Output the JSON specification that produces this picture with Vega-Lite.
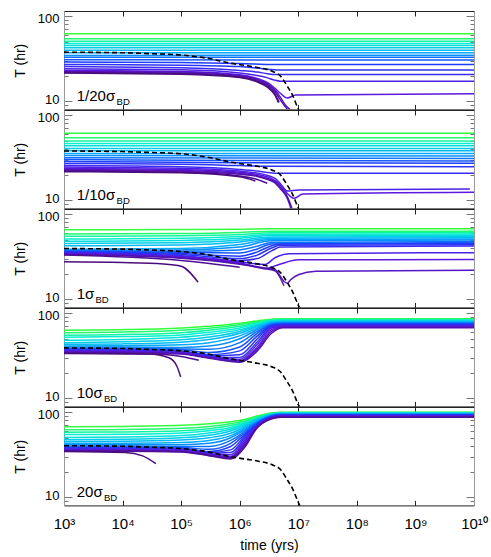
{
"$schema":"https://vega.github.io/schema/vega-lite/v6.json",
"padding":{"left":13,"top":10,"right":5,"bottom":5},
"spacing":0,
"bounds":"flush",
"config":{"view":{"stroke":null},"font":"Liberation Sans","axis":{"grid":false,"labelFont":"Liberation Sans","titleFont":"Liberation Sans","labelColor":"#000","titleColor":"#000","titleFontWeight":"normal","labelFlush":false,"labelOverlap":false,"labelBound":false}},
"datasets":{
"dash":[
{"p":1,"t":1e3,"T":37.7},{"p":1,"t":1e4,"T":37.1},{"p":1,"t":3e4,"T":36.2},{"p":1,"t":1e5,"T":34.9},{"p":1,"t":3e5,"T":31.7},{"p":1,"t":7e5,"T":27.9},{"p":1,"t":1.2e6,"T":26.4},{"p":1,"t":2e6,"T":24.9},{"p":1,"t":3.5e6,"T":22.6},{"p":1,"t":5e6,"T":19.6},{"p":1,"t":6.3e6,"T":15.5},{"p":1,"t":8e6,"T":11.7},{"p":1,"t":1e7,"T":8.1},{"p":1,"t":1.1e7,"T":7.2},
{"p":2,"t":1e3,"T":37.9},{"p":2,"t":1e4,"T":37.3},{"p":2,"t":3e4,"T":36.4},{"p":2,"t":1e5,"T":35.1},{"p":2,"t":3e5,"T":31.8},{"p":2,"t":7e5,"T":28},{"p":2,"t":1.2e6,"T":26.5},{"p":2,"t":2e6,"T":25},{"p":2,"t":3.5e6,"T":22.7},{"p":2,"t":5e6,"T":19.7},{"p":2,"t":6.3e6,"T":15.5},{"p":2,"t":8e6,"T":11.7},{"p":2,"t":1e7,"T":8.1},{"p":2,"t":1.1e7,"T":7.2},
{"p":3,"t":1e3,"T":39.4},{"p":3,"t":1e4,"T":38.8},{"p":3,"t":3e4,"T":37.8},{"p":3,"t":1e5,"T":36.4},{"p":3,"t":3e5,"T":33.1},{"p":3,"t":7e5,"T":29.2},{"p":3,"t":1.2e6,"T":27.6},{"p":3,"t":2e6,"T":26},{"p":3,"t":3.5e6,"T":23.6},{"p":3,"t":5e6,"T":20.5},{"p":3,"t":6.3e6,"T":16.2},{"p":3,"t":8e6,"T":12.2},{"p":3,"t":1e7,"T":8.5},{"p":3,"t":1.1e7,"T":7.4},
{"p":4,"t":1e3,"T":39},{"p":4,"t":1e4,"T":38.4},{"p":4,"t":3e4,"T":37.4},{"p":4,"t":1e5,"T":36.1},{"p":4,"t":3e5,"T":32.8},{"p":4,"t":7e5,"T":28.9},{"p":4,"t":1.2e6,"T":27.3},{"p":4,"t":2e6,"T":25.7},{"p":4,"t":3.5e6,"T":23.4},{"p":4,"t":5e6,"T":20.3},{"p":4,"t":6.3e6,"T":16},{"p":4,"t":8e6,"T":12.1},{"p":4,"t":1e7,"T":8.4},{"p":4,"t":1.1e7,"T":7.4},
{"p":5,"t":1e3,"T":40.3},{"p":5,"t":1e4,"T":39.7},{"p":5,"t":3e4,"T":38.7},{"p":5,"t":1e5,"T":37.3},{"p":5,"t":3e5,"T":33.9},{"p":5,"t":7e5,"T":29.8},{"p":5,"t":1.2e6,"T":28.2},{"p":5,"t":2e6,"T":26.6},{"p":5,"t":3.5e6,"T":24.2},{"p":5,"t":5e6,"T":21},{"p":5,"t":6.3e6,"T":16.5},{"p":5,"t":8e6,"T":12.5},{"p":5,"t":1e7,"T":8.7},{"p":5,"t":1.1e7,"T":7.5}
],
"lines":[
{"p":1,"i":19,"t":1e3,"T":61.9},{"p":1,"i":19,"t":1e10,"T":61.9},
{"p":1,"i":18,"t":1e3,"T":54.1},{"p":1,"i":18,"t":1e10,"T":54.1},
{"p":1,"i":17,"t":1e3,"T":50.8},{"p":1,"i":17,"t":1e10,"T":50.8},
{"p":1,"i":16,"t":1e3,"T":47.7},{"p":1,"i":16,"t":1e10,"T":47.7},
{"p":1,"i":15,"t":1e3,"T":45.2},{"p":1,"i":15,"t":1e10,"T":45.2},
{"p":1,"i":14,"t":1e3,"T":42.4},{"p":1,"i":14,"t":1e10,"T":42.4},
{"p":1,"i":13,"t":1e3,"T":39.8},{"p":1,"i":13,"t":1e10,"T":39.8},
{"p":1,"i":12,"t":1e3,"T":37},{"p":1,"i":12,"t":1e10,"T":37},
{"p":1,"i":11,"t":1e3,"T":34.5},{"p":1,"i":11,"t":1e10,"T":34.7},
{"p":1,"i":10,"t":1e3,"T":32.8},{"p":1,"i":10,"t":1e10,"T":32.9},
{"p":1,"i":9,"t":1e3,"T":30.8},{"p":1,"i":9,"t":1e6,"T":30.5},{"p":1,"i":9,"t":1e10,"T":30.4},
{"p":1,"i":8,"t":1e3,"T":28.8},{"p":1,"i":8,"t":1e5,"T":28.5},{"p":1,"i":8,"t":1e6,"T":27.8},{"p":1,"i":8,"t":4e6,"T":27},{"p":1,"i":8,"t":1e10,"T":27},
{"p":1,"i":7,"t":1e3,"T":27},{"p":1,"i":7,"t":1e5,"T":26.5},{"p":1,"i":7,"t":1e6,"T":25.5},{"p":1,"i":7,"t":3e6,"T":23.8},{"p":1,"i":7,"t":5e6,"T":23.2},{"p":1,"i":7,"t":1e10,"T":23.2},
{"p":1,"i":6,"t":1e3,"T":25.5},{"p":1,"i":6,"t":1e5,"T":24.8},{"p":1,"i":6,"t":1e6,"T":23},{"p":1,"i":6,"t":2e6,"T":22},{"p":1,"i":6,"t":3e6,"T":21},{"p":1,"i":6,"t":4e6,"T":20.6},{"p":1,"i":6,"t":1e10,"T":20.6},
{"p":1,"i":5,"t":1e3,"T":24},{"p":1,"i":5,"t":1e5,"T":23.4},{"p":1,"i":5,"t":1e6,"T":21.5},{"p":1,"i":5,"t":2e6,"T":20},{"p":1,"i":5,"t":3e6,"T":18.8},{"p":1,"i":5,"t":4e6,"T":17.6},{"p":1,"i":5,"t":5e6,"T":17.2},{"p":1,"i":5,"t":1e10,"T":17.2},
{"p":1,"i":4,"t":1e3,"T":23},{"p":1,"i":4,"t":1e5,"T":22.4},{"p":1,"i":4,"t":1e6,"T":20.5},{"p":1,"i":4,"t":2e6,"T":18.5},{"p":1,"i":4,"t":3e6,"T":16.5},{"p":1,"i":4,"t":4e6,"T":14.2},{"p":1,"i":4,"t":5e6,"T":12.3},{"p":1,"i":4,"t":6.5e6,"T":10.9},{"p":1,"i":4,"t":9e6,"T":11.8},{"p":1,"i":4,"t":1e10,"T":12.2},
{"p":1,"i":3,"t":1e3,"T":22.5},{"p":1,"i":3,"t":1e5,"T":22},{"p":1,"i":3,"t":1e6,"T":20},{"p":1,"i":3,"t":2e6,"T":18},{"p":1,"i":3,"t":3e6,"T":16},{"p":1,"i":3,"t":4e6,"T":13.5},{"p":1,"i":3,"t":5e6,"T":11},{"p":1,"i":3,"t":6e6,"T":9},{"p":1,"i":3,"t":7.2e6,"T":8},
{"p":1,"i":2,"t":1e3,"T":22},{"p":1,"i":2,"t":1e5,"T":21.5},{"p":1,"i":2,"t":1e6,"T":19.7},{"p":1,"i":2,"t":2e6,"T":17.6},{"p":1,"i":2,"t":3e6,"T":15.5},{"p":1,"i":2,"t":4e6,"T":13},{"p":1,"i":2,"t":5e6,"T":10.2},{"p":1,"i":2,"t":6.5e6,"T":8},
{"p":1,"i":1,"t":1e3,"T":21.7},{"p":1,"i":1,"t":1e5,"T":21.1},{"p":1,"i":1,"t":1e6,"T":19.3},{"p":1,"i":1,"t":2e6,"T":17.2},{"p":1,"i":1,"t":3e6,"T":15},{"p":1,"i":1,"t":4e6,"T":12.2},{"p":1,"i":1,"t":4.7e6,"T":9.7},
{"p":1,"i":0,"t":1e3,"T":21.4},{"p":1,"i":0,"t":1e5,"T":20.8},{"p":1,"i":0,"t":1e6,"T":19},{"p":1,"i":0,"t":2e6,"T":16.8},{"p":1,"i":0,"t":3e6,"T":14.5},{"p":1,"i":0,"t":4e6,"T":11.8},{"p":1,"i":0,"t":4.6e6,"T":9.6},

{"p":2,"i":19,"t":1e3,"T":61.1},{"p":2,"i":19,"t":1e10,"T":61.1},
{"p":2,"i":18,"t":1e3,"T":54.3},{"p":2,"i":18,"t":1e10,"T":54.3},
{"p":2,"i":17,"t":1e3,"T":49.6},{"p":2,"i":17,"t":1e10,"T":49.6},
{"p":2,"i":16,"t":1e3,"T":46.5},{"p":2,"i":16,"t":1e10,"T":46.5},
{"p":2,"i":15,"t":1e3,"T":43.7},{"p":2,"i":15,"t":1e10,"T":43.7},
{"p":2,"i":14,"t":1e3,"T":40.6},{"p":2,"i":14,"t":1e10,"T":40.6},
{"p":2,"i":13,"t":1e3,"T":38.2},{"p":2,"i":13,"t":1e10,"T":38.2},
{"p":2,"i":12,"t":1e3,"T":35.5},{"p":2,"i":12,"t":1e10,"T":35.5},
{"p":2,"i":11,"t":1e3,"T":33.5},{"p":2,"i":11,"t":1e10,"T":33.1},
{"p":2,"i":10,"t":1e3,"T":31.5},{"p":2,"i":10,"t":1e10,"T":31},
{"p":2,"i":9,"t":1e3,"T":30},{"p":2,"i":9,"t":1e6,"T":29.3},{"p":2,"i":9,"t":1e10,"T":28.9},
{"p":2,"i":8,"t":1e3,"T":28.5},{"p":2,"i":8,"t":1e6,"T":27.5},{"p":2,"i":8,"t":1e10,"T":27.1},
{"p":2,"i":7,"t":1e3,"T":27},{"p":2,"i":7,"t":1e5,"T":26.5},{"p":2,"i":7,"t":1e6,"T":25.5},{"p":2,"i":7,"t":3e6,"T":25},{"p":2,"i":7,"t":1e10,"T":24.8},
{"p":2,"i":6,"t":1e3,"T":25.5},{"p":2,"i":6,"t":1e5,"T":24.7},{"p":2,"i":6,"t":1e6,"T":23},{"p":2,"i":6,"t":2e6,"T":22},{"p":2,"i":6,"t":3e6,"T":21.2},{"p":2,"i":6,"t":4.5e6,"T":20.7},{"p":2,"i":6,"t":1e10,"T":20.7},
{"p":2,"i":5,"t":1e3,"T":24.5},{"p":2,"i":5,"t":1e5,"T":23.8},{"p":2,"i":5,"t":1e6,"T":22},{"p":2,"i":5,"t":2e6,"T":20.8},{"p":2,"i":5,"t":3e6,"T":19.5},{"p":2,"i":5,"t":4e6,"T":18},{"p":2,"i":5,"t":5e6,"T":15.5},{"p":2,"i":5,"t":6.5e6,"T":12.8},{"p":2,"i":5,"t":1e7,"T":13.2},{"p":2,"i":5,"t":8.5e9,"T":13.5},
{"p":2,"i":4,"t":1e3,"T":23.7},{"p":2,"i":4,"t":1e5,"T":23},{"p":2,"i":4,"t":1e6,"T":21.3},{"p":2,"i":4,"t":2e6,"T":20},{"p":2,"i":4,"t":3e6,"T":18.7},{"p":2,"i":4,"t":4e6,"T":17},{"p":2,"i":4,"t":5e6,"T":14.8},{"p":2,"i":4,"t":6.5e6,"T":12},{"p":2,"i":4,"t":8.5e6,"T":10.5},{"p":2,"i":4,"t":1.2e7,"T":11.8},{"p":2,"i":4,"t":1e10,"T":12.4},
{"p":2,"i":3,"t":1e3,"T":23},{"p":2,"i":3,"t":1e5,"T":22.3},{"p":2,"i":3,"t":1e6,"T":20.7},{"p":2,"i":3,"t":2e6,"T":19.4},{"p":2,"i":3,"t":3e6,"T":18},{"p":2,"i":3,"t":4e6,"T":16.5},{"p":2,"i":3,"t":5e6,"T":14},{"p":2,"i":3,"t":6.5e6,"T":11},{"p":2,"i":3,"t":7.8e6,"T":8},
{"p":2,"i":2,"t":1e3,"T":22.5},{"p":2,"i":2,"t":1e5,"T":21.8},{"p":2,"i":2,"t":1e6,"T":20.2},{"p":2,"i":2,"t":2e6,"T":19},{"p":2,"i":2,"t":3e6,"T":17.5},{"p":2,"i":2,"t":4e6,"T":16},{"p":2,"i":2,"t":5e6,"T":13.5},{"p":2,"i":2,"t":6.5e6,"T":10.5},{"p":2,"i":2,"t":7.5e6,"T":8},
{"p":2,"i":1,"t":1e3,"T":22},{"p":2,"i":1,"t":1e5,"T":21.3},{"p":2,"i":1,"t":1e6,"T":19.3},{"p":2,"i":1,"t":2e6,"T":17.5},{"p":2,"i":1,"t":2.95e6,"T":15.8},
{"p":2,"i":0,"t":1e3,"T":21.6},{"p":2,"i":0,"t":1e5,"T":21},{"p":2,"i":0,"t":1e6,"T":18.8},{"p":2,"i":0,"t":1.85e6,"T":16.8},

{"p":3,"i":19,"t":1e3,"T":65.5},{"p":3,"i":19,"t":1e5,"T":65.8},{"p":3,"i":19,"t":1e6,"T":66.5},{"p":3,"i":19,"t":3.5e6,"T":67.3},{"p":3,"i":19,"t":1e10,"T":67.3},
{"p":3,"i":18,"t":1e3,"T":58.6},{"p":3,"i":18,"t":1e5,"T":59.3},{"p":3,"i":18,"t":1e6,"T":61},{"p":3,"i":18,"t":3.5e6,"T":63},{"p":3,"i":18,"t":1e10,"T":63},
{"p":3,"i":17,"t":1e3,"T":55},{"p":3,"i":17,"t":1e5,"T":55.7},{"p":3,"i":17,"t":1e6,"T":57.5},{"p":3,"i":17,"t":3.5e6,"T":60.3},{"p":3,"i":17,"t":1e10,"T":60.5},
{"p":3,"i":16,"t":1e3,"T":51},{"p":3,"i":16,"t":1e5,"T":52},{"p":3,"i":16,"t":1e6,"T":54.5},{"p":3,"i":16,"t":3.5e6,"T":58.2},{"p":3,"i":16,"t":1e10,"T":58.5},
{"p":3,"i":15,"t":1e3,"T":47.9},{"p":3,"i":15,"t":1e5,"T":49},{"p":3,"i":15,"t":1e6,"T":52},{"p":3,"i":15,"t":3.5e6,"T":56.2},{"p":3,"i":15,"t":1e10,"T":56.5},
{"p":3,"i":14,"t":1e3,"T":45.2},{"p":3,"i":14,"t":1e5,"T":46.2},{"p":3,"i":14,"t":1e6,"T":49.5},{"p":3,"i":14,"t":3.5e6,"T":54},{"p":3,"i":14,"t":1e10,"T":54.5},
{"p":3,"i":13,"t":1e3,"T":42.5},{"p":3,"i":13,"t":1e5,"T":43.5},{"p":3,"i":13,"t":1e6,"T":47},{"p":3,"i":13,"t":3.5e6,"T":52.2},{"p":3,"i":13,"t":1e10,"T":52.8},
{"p":3,"i":12,"t":1e3,"T":38.7},{"p":3,"i":12,"t":1e5,"T":39.5},{"p":3,"i":12,"t":1e6,"T":44},{"p":3,"i":12,"t":3.5e6,"T":50.3},{"p":3,"i":12,"t":1e10,"T":51},
{"p":3,"i":11,"t":1e3,"T":38},{"p":3,"i":11,"t":1e5,"T":38},{"p":3,"i":11,"t":1e6,"T":41},{"p":3,"i":11,"t":3.5e6,"T":48.5},{"p":3,"i":11,"t":1e10,"T":49.5},
{"p":3,"i":10,"t":1e3,"T":37.4},{"p":3,"i":10,"t":1e5,"T":36.5},{"p":3,"i":10,"t":1e6,"T":38},{"p":3,"i":10,"t":2e6,"T":42},{"p":3,"i":10,"t":3.5e6,"T":46.5},{"p":3,"i":10,"t":1e10,"T":47.8},
{"p":3,"i":9,"t":1e3,"T":36.8},{"p":3,"i":9,"t":1e5,"T":35.5},{"p":3,"i":9,"t":1e6,"T":35},{"p":3,"i":9,"t":2e6,"T":39},{"p":3,"i":9,"t":3.5e6,"T":44.5},{"p":3,"i":9,"t":1e10,"T":46.4},
{"p":3,"i":8,"t":1e3,"T":36.2},{"p":3,"i":8,"t":1e5,"T":34.5},{"p":3,"i":8,"t":1e6,"T":32},{"p":3,"i":8,"t":2e6,"T":36},{"p":3,"i":8,"t":3.5e6,"T":42.5},{"p":3,"i":8,"t":5e6,"T":44.5},{"p":3,"i":8,"t":1e10,"T":45},
{"p":3,"i":7,"t":1e3,"T":35.7},{"p":3,"i":7,"t":1e5,"T":33.5},{"p":3,"i":7,"t":1e6,"T":30},{"p":3,"i":7,"t":2e6,"T":33},{"p":3,"i":7,"t":3.5e6,"T":40},{"p":3,"i":7,"t":5e6,"T":43},{"p":3,"i":7,"t":1e10,"T":43.6},
{"p":3,"i":6,"t":1e3,"T":35.2},{"p":3,"i":6,"t":1e5,"T":32.5},{"p":3,"i":6,"t":1e6,"T":28.5},{"p":3,"i":6,"t":2e6,"T":30},{"p":3,"i":6,"t":3.5e6,"T":37},{"p":3,"i":6,"t":5e6,"T":41},{"p":3,"i":6,"t":1e10,"T":42.1},
{"p":3,"i":5,"t":1e3,"T":34.7},{"p":3,"i":5,"t":1e5,"T":31.8},{"p":3,"i":5,"t":1e6,"T":27.5},{"p":3,"i":5,"t":2.7e6,"T":25.6},{"p":3,"i":5,"t":4e6,"T":30.7},{"p":3,"i":5,"t":7e6,"T":34.3},{"p":3,"i":5,"t":1e10,"T":35.2},
{"p":3,"i":4,"t":1e3,"T":34.3},{"p":3,"i":4,"t":1e5,"T":31.3},{"p":3,"i":4,"t":1e6,"T":26.8},{"p":3,"i":4,"t":2.7e6,"T":23},{"p":3,"i":4,"t":4.7e6,"T":25.6},{"p":3,"i":4,"t":1e7,"T":29},{"p":3,"i":4,"t":1e10,"T":29.2},
{"p":3,"i":3,"t":1e3,"T":33.9},{"p":3,"i":3,"t":1e5,"T":30.8},{"p":3,"i":3,"t":1e6,"T":26.2},{"p":3,"i":3,"t":2.5e6,"T":23.5},{"p":3,"i":3,"t":4e6,"T":22.3},{"p":3,"i":3,"t":5.7e6,"T":16.2},{"p":3,"i":3,"t":6.5e6,"T":15.4},{"p":3,"i":3,"t":7.4e6,"T":16.9},{"p":3,"i":3,"t":1e7,"T":19.4},{"p":3,"i":3,"t":2e7,"T":21.3},{"p":3,"i":3,"t":1e10,"T":21.9},
{"p":3,"i":2,"t":1e3,"T":33.5},{"p":3,"i":2,"t":1e5,"T":30.3},{"p":3,"i":2,"t":1e6,"T":25.7},{"p":3,"i":2,"t":2.5e6,"T":23},{"p":3,"i":2,"t":4e6,"T":21.5},{"p":3,"i":2,"t":5.7e6,"T":14.4},
{"p":3,"i":1,"t":1e3,"T":33},{"p":3,"i":1,"t":1e5,"T":28.5},{"p":3,"i":1,"t":1e6,"T":23.8},
{"p":3,"i":0,"t":1e3,"T":27.5},{"p":3,"i":0,"t":1e4,"T":27},{"p":3,"i":0,"t":5e4,"T":26},{"p":3,"i":0,"t":1e5,"T":24.4},{"p":3,"i":0,"t":1.95e5,"T":15.8},

{"p":4,"i":19,"t":1e3,"T":63},{"p":4,"i":19,"t":1e4,"T":64},{"p":4,"i":19,"t":1e5,"T":67},{"p":4,"i":19,"t":3e5,"T":70},{"p":4,"i":19,"t":1e6,"T":76},{"p":4,"i":19,"t":2e6,"T":81},{"p":4,"i":19,"t":3.5e6,"T":85},{"p":4,"i":19,"t":5.5e6,"T":86},{"p":4,"i":19,"t":1e10,"T":86},
{"p":4,"i":18,"t":1e3,"T":59},{"p":4,"i":18,"t":1e4,"T":60},{"p":4,"i":18,"t":1e5,"T":63},{"p":4,"i":18,"t":3e5,"T":66.5},{"p":4,"i":18,"t":1e6,"T":73},{"p":4,"i":18,"t":2e6,"T":79},{"p":4,"i":18,"t":3.5e6,"T":83.8},{"p":4,"i":18,"t":5.5e6,"T":84.9},{"p":4,"i":18,"t":1e10,"T":84.9},
{"p":4,"i":17,"t":1e3,"T":55},{"p":4,"i":17,"t":1e4,"T":56},{"p":4,"i":17,"t":1e5,"T":59},{"p":4,"i":17,"t":3e5,"T":63},{"p":4,"i":17,"t":1e6,"T":70},{"p":4,"i":17,"t":2e6,"T":77},{"p":4,"i":17,"t":3.5e6,"T":82.6},{"p":4,"i":17,"t":5.5e6,"T":83.8},{"p":4,"i":17,"t":1e10,"T":83.8},
{"p":4,"i":16,"t":1e3,"T":52},{"p":4,"i":16,"t":1e4,"T":53},{"p":4,"i":16,"t":1e5,"T":55.5},{"p":4,"i":16,"t":3e5,"T":59.5},{"p":4,"i":16,"t":1e6,"T":67},{"p":4,"i":16,"t":2e6,"T":75},{"p":4,"i":16,"t":3.5e6,"T":81.4},{"p":4,"i":16,"t":5.5e6,"T":82.7},{"p":4,"i":16,"t":1e10,"T":82.7},
{"p":4,"i":15,"t":1e3,"T":48},{"p":4,"i":15,"t":1e4,"T":49},{"p":4,"i":15,"t":1e5,"T":52},{"p":4,"i":15,"t":3e5,"T":56},{"p":4,"i":15,"t":1e6,"T":64},{"p":4,"i":15,"t":2e6,"T":73},{"p":4,"i":15,"t":3.5e6,"T":80.2},{"p":4,"i":15,"t":5.5e6,"T":81.6},{"p":4,"i":15,"t":1e10,"T":81.6},
{"p":4,"i":14,"t":1e3,"T":45},{"p":4,"i":14,"t":1e4,"T":46},{"p":4,"i":14,"t":1e5,"T":48.5},{"p":4,"i":14,"t":3e5,"T":52.5},{"p":4,"i":14,"t":1e6,"T":61},{"p":4,"i":14,"t":2e6,"T":71},{"p":4,"i":14,"t":3.5e6,"T":79},{"p":4,"i":14,"t":5.5e6,"T":80.5},{"p":4,"i":14,"t":1e10,"T":80.5},
{"p":4,"i":13,"t":1e3,"T":43},{"p":4,"i":13,"t":1e4,"T":43.5},{"p":4,"i":13,"t":1e5,"T":45.5},{"p":4,"i":13,"t":3e5,"T":49},{"p":4,"i":13,"t":1e6,"T":58},{"p":4,"i":13,"t":2e6,"T":69},{"p":4,"i":13,"t":3.5e6,"T":77.8},{"p":4,"i":13,"t":5.5e6,"T":79.4},{"p":4,"i":13,"t":1e10,"T":79.4},
{"p":4,"i":12,"t":1e3,"T":41},{"p":4,"i":12,"t":1e4,"T":41.5},{"p":4,"i":12,"t":1e5,"T":42.5},{"p":4,"i":12,"t":3e5,"T":45},{"p":4,"i":12,"t":1e6,"T":54},{"p":4,"i":12,"t":2e6,"T":66.5},{"p":4,"i":12,"t":3.5e6,"T":76.6},{"p":4,"i":12,"t":5.5e6,"T":78.3},{"p":4,"i":12,"t":1e10,"T":78.3},
{"p":4,"i":11,"t":1e3,"T":40},{"p":4,"i":11,"t":1e4,"T":40},{"p":4,"i":11,"t":1e5,"T":39.5},{"p":4,"i":11,"t":3e5,"T":41},{"p":4,"i":11,"t":1e6,"T":50},{"p":4,"i":11,"t":2e6,"T":64},{"p":4,"i":11,"t":3.5e6,"T":75.4},{"p":4,"i":11,"t":5.5e6,"T":77.2},{"p":4,"i":11,"t":1e10,"T":77.2},
{"p":4,"i":10,"t":1e3,"T":39},{"p":4,"i":10,"t":1e4,"T":39},{"p":4,"i":10,"t":1e5,"T":38},{"p":4,"i":10,"t":3e5,"T":37.5},{"p":4,"i":10,"t":1e6,"T":45},{"p":4,"i":10,"t":2e6,"T":61},{"p":4,"i":10,"t":3.5e6,"T":74.2},{"p":4,"i":10,"t":5.5e6,"T":76.1},{"p":4,"i":10,"t":1e10,"T":76.1},
{"p":4,"i":9,"t":1e3,"T":38},{"p":4,"i":9,"t":1e4,"T":38},{"p":4,"i":9,"t":1e5,"T":37},{"p":4,"i":9,"t":3e5,"T":34.5},{"p":4,"i":9,"t":1e6,"T":40},{"p":4,"i":9,"t":2e6,"T":58},{"p":4,"i":9,"t":3.5e6,"T":73},{"p":4,"i":9,"t":5.5e6,"T":75},{"p":4,"i":9,"t":1e10,"T":75},
{"p":4,"i":8,"t":1e3,"T":37.5},{"p":4,"i":8,"t":1e4,"T":37.5},{"p":4,"i":8,"t":1e5,"T":36},{"p":4,"i":8,"t":3e5,"T":32.5},{"p":4,"i":8,"t":1e6,"T":36},{"p":4,"i":8,"t":2e6,"T":54},{"p":4,"i":8,"t":3.5e6,"T":71.8},{"p":4,"i":8,"t":5.5e6,"T":73.9},{"p":4,"i":8,"t":1e10,"T":73.9},
{"p":4,"i":7,"t":1e3,"T":37},{"p":4,"i":7,"t":1e4,"T":37},{"p":4,"i":7,"t":1e5,"T":35.5},{"p":4,"i":7,"t":3e5,"T":31.5},{"p":4,"i":7,"t":1e6,"T":32.5},{"p":4,"i":7,"t":2e6,"T":50},{"p":4,"i":7,"t":3.5e6,"T":70.5},{"p":4,"i":7,"t":5.5e6,"T":72.8},{"p":4,"i":7,"t":1e10,"T":72.8},
{"p":4,"i":6,"t":1e3,"T":36.5},{"p":4,"i":6,"t":1e4,"T":36.5},{"p":4,"i":6,"t":1e5,"T":35},{"p":4,"i":6,"t":3e5,"T":31},{"p":4,"i":6,"t":1e6,"T":30},{"p":4,"i":6,"t":2e6,"T":46},{"p":4,"i":6,"t":3.5e6,"T":69},{"p":4,"i":6,"t":5.5e6,"T":71.7},{"p":4,"i":6,"t":1e10,"T":71.7},
{"p":4,"i":5,"t":1e3,"T":36},{"p":4,"i":5,"t":1e4,"T":36},{"p":4,"i":5,"t":1e5,"T":34.5},{"p":4,"i":5,"t":3e5,"T":30.5},{"p":4,"i":5,"t":1e6,"T":28.5},{"p":4,"i":5,"t":2e6,"T":43},{"p":4,"i":5,"t":3.5e6,"T":67},{"p":4,"i":5,"t":5.5e6,"T":70.6},{"p":4,"i":5,"t":1e10,"T":70.6},
{"p":4,"i":4,"t":1e3,"T":35.5},{"p":4,"i":4,"t":1e4,"T":35.5},{"p":4,"i":4,"t":1e5,"T":34},{"p":4,"i":4,"t":3e5,"T":30},{"p":4,"i":4,"t":1e6,"T":27.5},{"p":4,"i":4,"t":2e6,"T":40},{"p":4,"i":4,"t":3.5e6,"T":64},{"p":4,"i":4,"t":5.5e6,"T":69.5},{"p":4,"i":4,"t":1e10,"T":69.5},
{"p":4,"i":3,"t":1e3,"T":35},{"p":4,"i":3,"t":1e4,"T":35},{"p":4,"i":3,"t":1e5,"T":33.5},{"p":4,"i":3,"t":3e5,"T":30},{"p":4,"i":3,"t":1e6,"T":27},{"p":4,"i":3,"t":2e6,"T":38},{"p":4,"i":3,"t":3.5e6,"T":61},{"p":4,"i":3,"t":5.5e6,"T":68.4},{"p":4,"i":3,"t":1e10,"T":68.4},
{"p":4,"i":2,"t":1e3,"T":34.5},{"p":4,"i":2,"t":1e4,"T":34.5},{"p":4,"i":2,"t":1e5,"T":33},{"p":4,"i":2,"t":3e5,"T":29.5},{"p":4,"i":2,"t":1e6,"T":26.5},{"p":4,"i":2,"t":2e6,"T":36},{"p":4,"i":2,"t":3.5e6,"T":58},{"p":4,"i":2,"t":5.5e6,"T":67.3},{"p":4,"i":2,"t":1e10,"T":67.3},
{"p":4,"i":1,"t":1e3,"T":34},{"p":4,"i":1,"t":3e4,"T":33},{"p":4,"i":1,"t":1e5,"T":31},{"p":4,"i":1,"t":2e5,"T":28},
{"p":4,"i":0,"t":1e3,"T":33.6},{"p":4,"i":0,"t":2.8e4,"T":33.1},{"p":4,"i":0,"t":6.2e4,"T":29.9},{"p":4,"i":0,"t":8.5e4,"T":23.6},{"p":4,"i":0,"t":9.8e4,"T":17.8},

{"p":5,"i":19,"t":1e3,"T":67.5},{"p":5,"i":19,"t":1e4,"T":68},{"p":5,"i":19,"t":1e5,"T":70},{"p":5,"i":19,"t":3e5,"T":73},{"p":5,"i":19,"t":7e5,"T":77},{"p":5,"i":19,"t":1.2e6,"T":82},{"p":5,"i":19,"t":2e6,"T":90},{"p":5,"i":19,"t":3.5e6,"T":98},{"p":5,"i":19,"t":5e6,"T":100},{"p":5,"i":19,"t":1e10,"T":100},
{"p":5,"i":18,"t":1e3,"T":62},{"p":5,"i":18,"t":1e4,"T":62.5},{"p":5,"i":18,"t":1e5,"T":64.5},{"p":5,"i":18,"t":3e5,"T":68},{"p":5,"i":18,"t":7e5,"T":73},{"p":5,"i":18,"t":1.2e6,"T":79},{"p":5,"i":18,"t":2e6,"T":88},{"p":5,"i":18,"t":3.5e6,"T":97},{"p":5,"i":18,"t":5e6,"T":99.3},{"p":5,"i":18,"t":1e10,"T":99.3},
{"p":5,"i":17,"t":1e3,"T":58},{"p":5,"i":17,"t":1e4,"T":58.5},{"p":5,"i":17,"t":1e5,"T":60.5},{"p":5,"i":17,"t":3e5,"T":64},{"p":5,"i":17,"t":7e5,"T":69.5},{"p":5,"i":17,"t":1.2e6,"T":76.5},{"p":5,"i":17,"t":2e6,"T":86.5},{"p":5,"i":17,"t":3.5e6,"T":96},{"p":5,"i":17,"t":5e6,"T":98.6},{"p":5,"i":17,"t":1e10,"T":98.6},
{"p":5,"i":16,"t":1e3,"T":54.5},{"p":5,"i":16,"t":1e4,"T":55},{"p":5,"i":16,"t":1e5,"T":57},{"p":5,"i":16,"t":3e5,"T":60.5},{"p":5,"i":16,"t":7e5,"T":66},{"p":5,"i":16,"t":1.2e6,"T":74},{"p":5,"i":16,"t":2e6,"T":85},{"p":5,"i":16,"t":3.5e6,"T":95.2},{"p":5,"i":16,"t":5e6,"T":97.9},{"p":5,"i":16,"t":1e10,"T":97.9},
{"p":5,"i":15,"t":1e3,"T":50.5},{"p":5,"i":15,"t":1e4,"T":51},{"p":5,"i":15,"t":1e5,"T":53},{"p":5,"i":15,"t":3e5,"T":57},{"p":5,"i":15,"t":7e5,"T":63},{"p":5,"i":15,"t":1.2e6,"T":71.5},{"p":5,"i":15,"t":2e6,"T":83.5},{"p":5,"i":15,"t":3.5e6,"T":94.4},{"p":5,"i":15,"t":5e6,"T":97.2},{"p":5,"i":15,"t":1e10,"T":97.2},
{"p":5,"i":14,"t":1e3,"T":47.5},{"p":5,"i":14,"t":1e4,"T":48},{"p":5,"i":14,"t":1e5,"T":50},{"p":5,"i":14,"t":3e5,"T":53.5},{"p":5,"i":14,"t":7e5,"T":60},{"p":5,"i":14,"t":1.2e6,"T":69},{"p":5,"i":14,"t":2e6,"T":82},{"p":5,"i":14,"t":3.5e6,"T":93.6},{"p":5,"i":14,"t":5e6,"T":96.5},{"p":5,"i":14,"t":1e10,"T":96.5},
{"p":5,"i":13,"t":1e3,"T":45.3},{"p":5,"i":13,"t":1e4,"T":45.5},{"p":5,"i":13,"t":1e5,"T":47},{"p":5,"i":13,"t":3e5,"T":50},{"p":5,"i":13,"t":7e5,"T":56.5},{"p":5,"i":13,"t":1.2e6,"T":66.5},{"p":5,"i":13,"t":2e6,"T":80.5},{"p":5,"i":13,"t":3.5e6,"T":92.8},{"p":5,"i":13,"t":5e6,"T":95.8},{"p":5,"i":13,"t":1e10,"T":95.8},
{"p":5,"i":12,"t":1e3,"T":43},{"p":5,"i":12,"t":1e4,"T":43.2},{"p":5,"i":12,"t":1e5,"T":44},{"p":5,"i":12,"t":3e5,"T":46.5},{"p":5,"i":12,"t":7e5,"T":53},{"p":5,"i":12,"t":1.2e6,"T":64},{"p":5,"i":12,"t":2e6,"T":79},{"p":5,"i":12,"t":3.5e6,"T":92},{"p":5,"i":12,"t":5e6,"T":95.1},{"p":5,"i":12,"t":1e10,"T":95.1},
{"p":5,"i":11,"t":1e3,"T":41.5},{"p":5,"i":11,"t":1e4,"T":41.5},{"p":5,"i":11,"t":1e5,"T":41.5},{"p":5,"i":11,"t":3e5,"T":43},{"p":5,"i":11,"t":7e5,"T":50},{"p":5,"i":11,"t":1.2e6,"T":61.5},{"p":5,"i":11,"t":2e6,"T":77.5},{"p":5,"i":11,"t":3.5e6,"T":91.2},{"p":5,"i":11,"t":5e6,"T":94.4},{"p":5,"i":11,"t":1e10,"T":94.4},
{"p":5,"i":10,"t":1e3,"T":40},{"p":5,"i":10,"t":1e4,"T":40},{"p":5,"i":10,"t":1e5,"T":39.5},{"p":5,"i":10,"t":3e5,"T":39.5},{"p":5,"i":10,"t":7e5,"T":46.5},{"p":5,"i":10,"t":1.2e6,"T":59},{"p":5,"i":10,"t":2e6,"T":76},{"p":5,"i":10,"t":3.5e6,"T":90.4},{"p":5,"i":10,"t":5e6,"T":93.7},{"p":5,"i":10,"t":1e10,"T":93.7},
{"p":5,"i":9,"t":1e3,"T":39},{"p":5,"i":9,"t":1e4,"T":39},{"p":5,"i":9,"t":1e5,"T":38.5},{"p":5,"i":9,"t":3e5,"T":36.5},{"p":5,"i":9,"t":7e5,"T":43},{"p":5,"i":9,"t":1.2e6,"T":56.5},{"p":5,"i":9,"t":2e6,"T":74.5},{"p":5,"i":9,"t":3.5e6,"T":89.6},{"p":5,"i":9,"t":5e6,"T":93},{"p":5,"i":9,"t":1e10,"T":93},
{"p":5,"i":8,"t":1e3,"T":38.3},{"p":5,"i":8,"t":1e4,"T":38.2},{"p":5,"i":8,"t":1e5,"T":37.5},{"p":5,"i":8,"t":3e5,"T":34.5},{"p":5,"i":8,"t":7e5,"T":39.5},{"p":5,"i":8,"t":1.2e6,"T":54},{"p":5,"i":8,"t":2e6,"T":73},{"p":5,"i":8,"t":3.5e6,"T":88.8},{"p":5,"i":8,"t":5e6,"T":92.3},{"p":5,"i":8,"t":1e10,"T":92.3},
{"p":5,"i":7,"t":1e3,"T":37.6},{"p":5,"i":7,"t":1e4,"T":37.5},{"p":5,"i":7,"t":1e5,"T":37},{"p":5,"i":7,"t":3e5,"T":33.5},{"p":5,"i":7,"t":7e5,"T":36},{"p":5,"i":7,"t":1.2e6,"T":51.5},{"p":5,"i":7,"t":2e6,"T":71.5},{"p":5,"i":7,"t":3.5e6,"T":88},{"p":5,"i":7,"t":5e6,"T":91.6},{"p":5,"i":7,"t":1e10,"T":91.6},
{"p":5,"i":6,"t":1e3,"T":37},{"p":5,"i":6,"t":1e4,"T":37},{"p":5,"i":6,"t":1e5,"T":36.5},{"p":5,"i":6,"t":3e5,"T":33},{"p":5,"i":6,"t":7e5,"T":33.5},{"p":5,"i":6,"t":1.2e6,"T":49},{"p":5,"i":6,"t":2e6,"T":70},{"p":5,"i":6,"t":3.5e6,"T":87.2},{"p":5,"i":6,"t":5e6,"T":90.9},{"p":5,"i":6,"t":1e10,"T":90.9},
{"p":5,"i":5,"t":1e3,"T":36.5},{"p":5,"i":5,"t":1e4,"T":36.5},{"p":5,"i":5,"t":1e5,"T":36},{"p":5,"i":5,"t":3e5,"T":32.5},{"p":5,"i":5,"t":7e5,"T":31.5},{"p":5,"i":5,"t":1.2e6,"T":46.5},{"p":5,"i":5,"t":2e6,"T":69},{"p":5,"i":5,"t":3.5e6,"T":86.5},{"p":5,"i":5,"t":5e6,"T":90.2},{"p":5,"i":5,"t":1e10,"T":90.2},
{"p":5,"i":4,"t":1e3,"T":36},{"p":5,"i":4,"t":1e4,"T":36},{"p":5,"i":4,"t":1e5,"T":35.5},{"p":5,"i":4,"t":3e5,"T":32},{"p":5,"i":4,"t":7e5,"T":30},{"p":5,"i":4,"t":1.2e6,"T":44},{"p":5,"i":4,"t":2e6,"T":68},{"p":5,"i":4,"t":3.5e6,"T":85.8},{"p":5,"i":4,"t":5e6,"T":89.5},{"p":5,"i":4,"t":1e10,"T":89.5},
{"p":5,"i":3,"t":1e3,"T":35.6},{"p":5,"i":3,"t":1e4,"T":35.6},{"p":5,"i":3,"t":1e5,"T":35},{"p":5,"i":3,"t":3e5,"T":31.5},{"p":5,"i":3,"t":7e5,"T":29.2},{"p":5,"i":3,"t":1.2e6,"T":42},{"p":5,"i":3,"t":2e6,"T":67},{"p":5,"i":3,"t":3.5e6,"T":85},{"p":5,"i":3,"t":5e6,"T":88.8},{"p":5,"i":3,"t":1e10,"T":88.8},
{"p":5,"i":2,"t":1e3,"T":35.2},{"p":5,"i":2,"t":1e4,"T":35.2},{"p":5,"i":2,"t":1e5,"T":34.5},{"p":5,"i":2,"t":3e5,"T":31},{"p":5,"i":2,"t":7e5,"T":28.7},{"p":5,"i":2,"t":1.2e6,"T":40},{"p":5,"i":2,"t":2e6,"T":66.5},{"p":5,"i":2,"t":3.5e6,"T":84.3},{"p":5,"i":2,"t":5e6,"T":88.1},{"p":5,"i":2,"t":1e10,"T":88.1},
{"p":5,"i":1,"t":1e3,"T":34.8},{"p":5,"i":1,"t":1e4,"T":34.8},{"p":5,"i":1,"t":1e5,"T":34},{"p":5,"i":1,"t":3e5,"T":30.8},{"p":5,"i":1,"t":7e5,"T":28.2},{"p":5,"i":1,"t":1.2e6,"T":38},{"p":5,"i":1,"t":2e6,"T":66},{"p":5,"i":1,"t":3.5e6,"T":83.5},{"p":5,"i":1,"t":5e6,"T":87.4},{"p":5,"i":1,"t":1e10,"T":87.4},
{"p":5,"i":0,"t":1e3,"T":34.5},{"p":5,"i":0,"t":1.1e4,"T":33.6},{"p":5,"i":0,"t":2.2e4,"T":30.6},{"p":5,"i":0,"t":3.7e4,"T":24.8}
],
"one":[{}]
},
"vconcat":[
{"width":410,"height":98.4,"resolve":{"axis":{"x":"independent","y":"independent"}},"layer":[
{"data":{"name":"lines"},"transform":[{"filter":"datum.p==1"}],"mark":{"type":"line","interpolate":"monotone","clip":true,"strokeWidth":1.5},
"encoding":{"x":{"field":"t","type":"quantitative","scale":{"type":"log","domain":[1000,10000000000],"nice":false},"axis":{"orient":"bottom","values":[1e3,1e4,1e5,1e6,1e7,1e8,1e9,1e10],"labels":false,"title":null,"tickSize":-5,"tickColor":"#222","domainColor":"#222"}},
"y":{"field":"T","type":"quantitative","scale":{"type":"log","domain":[8,115],"nice":false},"axis":{"orient":"left","values":[9,10,20,30,40,50,60,70,80,90,100],"labelExpr":"datum.value==10||datum.value==100?datum.label:''","labelFontSize":13,"labelPadding":13,"labelOffset":{"condition":{"test":"datum.value==10","value":-2},"value":2},"title":"T (hr)","titleFontSize":14,"titlePadding":10,"tickSize":{"condition":{"test":"datum.value==10||datum.value==100","value":-8},"value":-4},"tickColor":"#777","domainColor":"#999"}},
"color":{"field":"i","type":"quantitative","scale":{"domain":[0,4,8,12,16,19],"range":["#4b0c7c","#5a18e0","#1c3cff","#00aaff","#00f0d0","#30ff3c"],"interpolate":"rgb"},"legend":null},
"detail":{"field":"i","type":"nominal"}}},
{"data":{"name":"dash"},"transform":[{"filter":"datum.p==1"}],"mark":{"type":"line","interpolate":"monotone","clip":true,"strokeWidth":1.6,"color":"#000","strokeDash":[5,3]},
"encoding":{"x":{"field":"t","type":"quantitative","axis":{"orient":"top","values":[1e3,1e4,1e5,1e6,1e7,1e8,1e9,1e10],"labels":false,"title":null,"tickSize":-5,"tickColor":"#222","domainColor":"#222"}},
"y":{"field":"T","type":"quantitative","axis":{"orient":"right","values":[9,10,20,30,40,50,60,70,80,90,100],"labels":false,"title":null,"tickSize":{"condition":{"test":"datum.value==10||datum.value==100","value":-8},"value":-4},"tickColor":"#777","domainColor":"#999"}}}},
{"data":{"name":"one"},"mark":{"type":"text","align":"left","baseline":"alphabetic","fontSize":15,"font":"Liberation Sans"},"encoding":{"x":{"datum":1650,"axis":null},"y":{"datum":10,"axis":null},"text":{"value":"1/20σ"}}},
{"data":{"name":"one"},"mark":{"type":"text","align":"left","baseline":"alphabetic","fontSize":9.5,"font":"Liberation Sans","dy":4},"encoding":{"x":{"datum":7900,"axis":null},"y":{"datum":10,"axis":null},"text":{"value":"BD"}}}
]},
{"width":410,"height":98.4,"resolve":{"axis":{"x":"independent","y":"independent"}},"layer":[
{"data":{"name":"lines"},"transform":[{"filter":"datum.p==2"}],"mark":{"type":"line","interpolate":"monotone","clip":true,"strokeWidth":1.5},
"encoding":{"x":{"field":"t","type":"quantitative","scale":{"type":"log","domain":[1000,10000000000],"nice":false},"axis":{"orient":"bottom","values":[1e3,1e4,1e5,1e6,1e7,1e8,1e9,1e10],"labels":false,"title":null,"tickSize":-5,"tickColor":"#222","domainColor":"#222"}},
"y":{"field":"T","type":"quantitative","scale":{"type":"log","domain":[8,115],"nice":false},"axis":{"orient":"left","values":[9,10,20,30,40,50,60,70,80,90,100],"labelExpr":"datum.value==10||datum.value==100?datum.label:''","labelFontSize":13,"labelPadding":13,"labelOffset":{"condition":{"test":"datum.value==10","value":-2},"value":2},"title":"T (hr)","titleFontSize":14,"titlePadding":10,"tickSize":{"condition":{"test":"datum.value==10||datum.value==100","value":-8},"value":-4},"tickColor":"#777","domainColor":"#999"}},
"color":{"field":"i","type":"quantitative","scale":{"domain":[0,4,8,12,16,19],"range":["#4b0c7c","#5a18e0","#1c3cff","#00aaff","#00f0d0","#30ff3c"],"interpolate":"rgb"},"legend":null},
"detail":{"field":"i","type":"nominal"}}},
{"data":{"name":"dash"},"transform":[{"filter":"datum.p==2"}],"mark":{"type":"line","interpolate":"monotone","clip":true,"strokeWidth":1.6,"color":"#000","strokeDash":[5,3]},
"encoding":{"x":{"field":"t","type":"quantitative","axis":{"orient":"top","values":[1e3,1e4,1e5,1e6,1e7,1e8,1e9,1e10],"labels":false,"title":null,"tickSize":-5,"tickColor":"#222","domainColor":"#222"}},
"y":{"field":"T","type":"quantitative","axis":{"orient":"right","values":[9,10,20,30,40,50,60,70,80,90,100],"labels":false,"title":null,"tickSize":{"condition":{"test":"datum.value==10||datum.value==100","value":-8},"value":-4},"tickColor":"#777","domainColor":"#999"}}}},
{"data":{"name":"one"},"mark":{"type":"text","align":"left","baseline":"alphabetic","fontSize":15,"font":"Liberation Sans"},"encoding":{"x":{"datum":1650,"axis":null},"y":{"datum":10,"axis":null},"text":{"value":"1/10σ"}}},
{"data":{"name":"one"},"mark":{"type":"text","align":"left","baseline":"alphabetic","fontSize":9.5,"font":"Liberation Sans","dy":4},"encoding":{"x":{"datum":7900,"axis":null},"y":{"datum":10,"axis":null},"text":{"value":"BD"}}}
]},
{"width":410,"height":98.4,"resolve":{"axis":{"x":"independent","y":"independent"}},"layer":[
{"data":{"name":"lines"},"transform":[{"filter":"datum.p==3"}],"mark":{"type":"line","interpolate":"monotone","clip":true,"strokeWidth":1.5},
"encoding":{"x":{"field":"t","type":"quantitative","scale":{"type":"log","domain":[1000,10000000000],"nice":false},"axis":{"orient":"bottom","values":[1e3,1e4,1e5,1e6,1e7,1e8,1e9,1e10],"labels":false,"title":null,"tickSize":-5,"tickColor":"#222","domainColor":"#222"}},
"y":{"field":"T","type":"quantitative","scale":{"type":"log","domain":[8,115],"nice":false},"axis":{"orient":"left","values":[9,10,20,30,40,50,60,70,80,90,100],"labelExpr":"datum.value==10||datum.value==100?datum.label:''","labelFontSize":13,"labelPadding":13,"labelOffset":{"condition":{"test":"datum.value==10","value":-2},"value":2},"title":"T (hr)","titleFontSize":14,"titlePadding":10,"tickSize":{"condition":{"test":"datum.value==10||datum.value==100","value":-8},"value":-4},"tickColor":"#777","domainColor":"#999"}},
"color":{"field":"i","type":"quantitative","scale":{"domain":[0,4,8,12,16,19],"range":["#4b0c7c","#5a18e0","#1c3cff","#00aaff","#00f0d0","#30ff3c"],"interpolate":"rgb"},"legend":null},
"detail":{"field":"i","type":"nominal"}}},
{"data":{"name":"dash"},"transform":[{"filter":"datum.p==3"}],"mark":{"type":"line","interpolate":"monotone","clip":true,"strokeWidth":1.6,"color":"#000","strokeDash":[5,3]},
"encoding":{"x":{"field":"t","type":"quantitative","axis":{"orient":"top","values":[1e3,1e4,1e5,1e6,1e7,1e8,1e9,1e10],"labels":false,"title":null,"tickSize":-5,"tickColor":"#222","domainColor":"#222"}},
"y":{"field":"T","type":"quantitative","axis":{"orient":"right","values":[9,10,20,30,40,50,60,70,80,90,100],"labels":false,"title":null,"tickSize":{"condition":{"test":"datum.value==10||datum.value==100","value":-8},"value":-4},"tickColor":"#777","domainColor":"#999"}}}},
{"data":{"name":"one"},"mark":{"type":"text","align":"left","baseline":"alphabetic","fontSize":15,"font":"Liberation Sans"},"encoding":{"x":{"datum":1650,"axis":null},"y":{"datum":10,"axis":null},"text":{"value":"1σ"}}},
{"data":{"name":"one"},"mark":{"type":"text","align":"left","baseline":"alphabetic","fontSize":9.5,"font":"Liberation Sans","dy":4},"encoding":{"x":{"datum":3450,"axis":null},"y":{"datum":10,"axis":null},"text":{"value":"BD"}}}
]},
{"width":410,"height":98.4,"resolve":{"axis":{"x":"independent","y":"independent"}},"layer":[
{"data":{"name":"lines"},"transform":[{"filter":"datum.p==4"}],"mark":{"type":"line","interpolate":"monotone","clip":true,"strokeWidth":1.5},
"encoding":{"x":{"field":"t","type":"quantitative","scale":{"type":"log","domain":[1000,10000000000],"nice":false},"axis":{"orient":"bottom","values":[1e3,1e4,1e5,1e6,1e7,1e8,1e9,1e10],"labels":false,"title":null,"tickSize":-5,"tickColor":"#222","domainColor":"#222"}},
"y":{"field":"T","type":"quantitative","scale":{"type":"log","domain":[8,115],"nice":false},"axis":{"orient":"left","values":[9,10,20,30,40,50,60,70,80,90,100],"labelExpr":"datum.value==10||datum.value==100?datum.label:''","labelFontSize":13,"labelPadding":13,"labelOffset":{"condition":{"test":"datum.value==10","value":-2},"value":2},"title":"T (hr)","titleFontSize":14,"titlePadding":10,"tickSize":{"condition":{"test":"datum.value==10||datum.value==100","value":-8},"value":-4},"tickColor":"#777","domainColor":"#999"}},
"color":{"field":"i","type":"quantitative","scale":{"domain":[0,4,8,12,16,19],"range":["#4b0c7c","#5a18e0","#1c3cff","#00aaff","#00f0d0","#30ff3c"],"interpolate":"rgb"},"legend":null},
"detail":{"field":"i","type":"nominal"}}},
{"data":{"name":"dash"},"transform":[{"filter":"datum.p==4"}],"mark":{"type":"line","interpolate":"monotone","clip":true,"strokeWidth":1.6,"color":"#000","strokeDash":[5,3]},
"encoding":{"x":{"field":"t","type":"quantitative","axis":{"orient":"top","values":[1e3,1e4,1e5,1e6,1e7,1e8,1e9,1e10],"labels":false,"title":null,"tickSize":-5,"tickColor":"#222","domainColor":"#222"}},
"y":{"field":"T","type":"quantitative","axis":{"orient":"right","values":[9,10,20,30,40,50,60,70,80,90,100],"labels":false,"title":null,"tickSize":{"condition":{"test":"datum.value==10||datum.value==100","value":-8},"value":-4},"tickColor":"#777","domainColor":"#999"}}}},
{"data":{"name":"one"},"mark":{"type":"text","align":"left","baseline":"alphabetic","fontSize":15,"font":"Liberation Sans"},"encoding":{"x":{"datum":1650,"axis":null},"y":{"datum":10,"axis":null},"text":{"value":"10σ"}}},
{"data":{"name":"one"},"mark":{"type":"text","align":"left","baseline":"alphabetic","fontSize":9.5,"font":"Liberation Sans","dy":4},"encoding":{"x":{"datum":4800,"axis":null},"y":{"datum":10,"axis":null},"text":{"value":"BD"}}}
]},
{"width":410,"height":98.4,"resolve":{"axis":{"x":"independent","y":"independent"}},"layer":[
{"data":{"name":"lines"},"transform":[{"filter":"datum.p==5"}],"mark":{"type":"line","interpolate":"monotone","clip":true,"strokeWidth":1.5},
"encoding":{"x":{"field":"t","type":"quantitative","scale":{"type":"log","domain":[1000,10000000000],"nice":false},"axis":{"orient":"bottom","values":[1e3,1e4,1e5,1e6,1e7,1e8,1e9,1e10],"labelExpr":"'10'+['⁰','¹','²','³','⁴','⁵','⁶','⁷','⁸','⁹','¹⁰'][round(log(datum.value)/LN10)]","labelFontSize":15,"labelPadding":16,"title":"time (yrs)","titleFontSize":14,"titlePadding":7,"tickSize":-5,"tickColor":"#222","domainColor":"#222"}},
"y":{"field":"T","type":"quantitative","scale":{"type":"log","domain":[8,115],"nice":false},"axis":{"orient":"left","values":[9,10,20,30,40,50,60,70,80,90,100],"labelExpr":"datum.value==10||datum.value==100?datum.label:''","labelFontSize":13,"labelPadding":13,"labelOffset":{"condition":{"test":"datum.value==10","value":-2},"value":2},"title":"T (hr)","titleFontSize":14,"titlePadding":10,"tickSize":{"condition":{"test":"datum.value==10||datum.value==100","value":-8},"value":-4},"tickColor":"#777","domainColor":"#999"}},
"color":{"field":"i","type":"quantitative","scale":{"domain":[0,4,8,12,16,19],"range":["#4b0c7c","#5a18e0","#1c3cff","#00aaff","#00f0d0","#30ff3c"],"interpolate":"rgb"},"legend":null},
"detail":{"field":"i","type":"nominal"}}},
{"data":{"name":"dash"},"transform":[{"filter":"datum.p==5"}],"mark":{"type":"line","interpolate":"monotone","clip":true,"strokeWidth":1.6,"color":"#000","strokeDash":[5,3]},
"encoding":{"x":{"field":"t","type":"quantitative","axis":{"orient":"top","values":[1e3,1e4,1e5,1e6,1e7,1e8,1e9,1e10],"labels":false,"title":null,"tickSize":-5,"tickColor":"#222","domainColor":"#222"}},
"y":{"field":"T","type":"quantitative","axis":{"orient":"right","values":[9,10,20,30,40,50,60,70,80,90,100],"labels":false,"title":null,"tickSize":{"condition":{"test":"datum.value==10||datum.value==100","value":-8},"value":-4},"tickColor":"#777","domainColor":"#999"}}}},
{"data":{"name":"one"},"mark":{"type":"text","align":"left","baseline":"alphabetic","fontSize":15,"font":"Liberation Sans"},"encoding":{"x":{"datum":1650,"axis":null},"y":{"datum":10,"axis":null},"text":{"value":"20σ"}}},
{"data":{"name":"one"},"mark":{"type":"text","align":"left","baseline":"alphabetic","fontSize":9.5,"font":"Liberation Sans","dy":4},"encoding":{"x":{"datum":4800,"axis":null},"y":{"datum":10,"axis":null},"text":{"value":"BD"}}}
]}
]
}
